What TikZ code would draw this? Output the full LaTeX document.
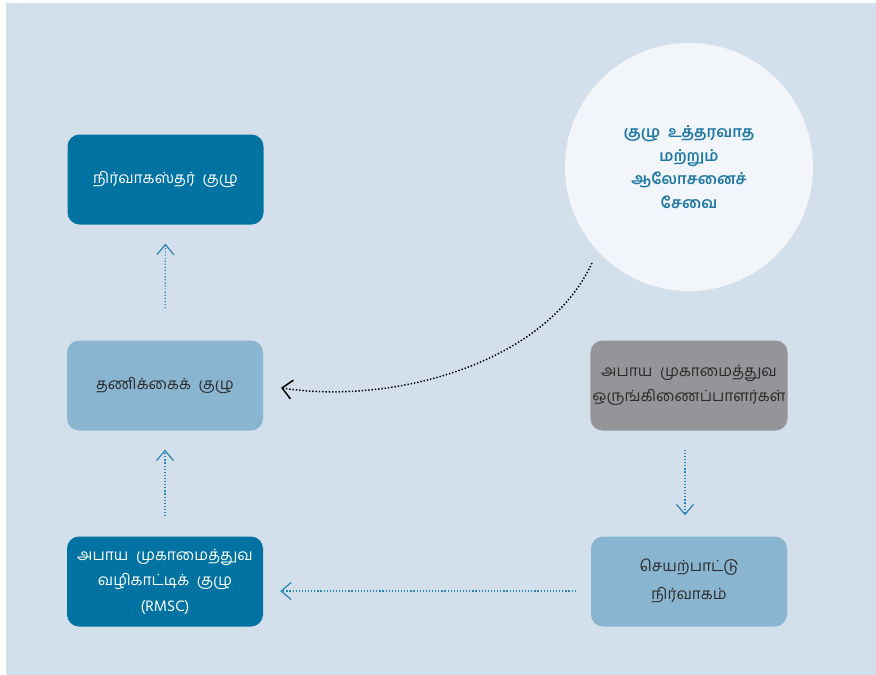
\documentclass[tikz,border=0pt]{standalone}
\usepackage{fontspec}
\newfontfamily\tamil[Script=Tamil]{Hind Madurai}
\usetikzlibrary{arrows.meta}
\definecolor{bg}{HTML}{D3E0EB}
\definecolor{darkblue}{HTML}{0073A2}
\definecolor{lightblue}{HTML}{8AB5D0}
\definecolor{greybox}{HTML}{949598}
\definecolor{circfill}{HTML}{F2F6FA}
\definecolor{arrowblue}{HTML}{2A84B6}
\definecolor{circtext}{HTML}{1F78A6}
\definecolor{darktext}{HTML}{2A2A2A}
\tikzset{
  boxbase/.style={rectangle, rounded corners=12pt, minimum width=196pt, minimum height=90pt, align=center, inner sep=2pt, font=\tamil\fontsize{15.5}{25.5}\selectfont},
  darkbox/.style={boxbase, fill=darkblue, text=white},
  lightbox/.style={boxbase, fill=lightblue, text=darktext},
  greyb/.style={boxbase, fill=greybox, text=darktext},
  circnode/.style={circle, fill=circfill, minimum size=248pt, align=center, text=circtext, font=\tamil\bfseries\fontsize{15.5}{23.5}\selectfont},
  bluearrow/.style={draw=arrowblue, line width=1.2pt, dash pattern=on 1.2pt off 1.9pt, -{Straight Barb[length=10pt,width=17pt,line width=1.2pt]}},
  blackarrow/.style={draw=black, line width=1.5pt, dash pattern=on 1.4pt off 1.9pt, -{Straight Barb[length=10pt,width=19pt,line width=1.5pt]}}
}
\begin{document}
\begin{tikzpicture}[x=1pt,y=-1pt]
\useasboundingbox (0,0) rectangle (876,675);
\fill[bg] (6,3) rectangle (876,675);

\node[darkbox] (b1) at (165.5,179.5) {நிர்வாகஸ்தர்\ \ குழு};
\node[lightbox] (b2) at (165,385.5) {தணிக்கைக்\ \ குழு};
\node[greyb] (b3) at (689,385.5) {அபாய\ \ முகாமைத்துவ\\ஒருங்கிணைப்பாளர்கள்};
\node[darkbox] (b4) at (165,581.5) {அபாய\ \ முகாமைத்துவ\\வழிகாட்டிக்\ \ குழு\\(RMSC)};
\node[lightbox, font=\tamil\fontsize{15.5}{28}\selectfont] (b5) at (689,581.5) {செயற்பாட்டு\\நிர்வாகம்};
\node[circnode] (c) at (689,167) {குழு\ \ உத்தரவாத\\மற்றும்\\ஆலோசனைச்\\சேவை};

\coordinate (cs) at (592,263);

\draw[bluearrow, shorten <=32pt, shorten >=19pt] (b2.north) -- (b1.south);
\draw[bluearrow, shorten <=20pt, shorten >=19pt] (b4.north) -- (b2.south);
\draw[bluearrow, shorten <=19pt, shorten >=21pt] ([xshift=-4pt]b3.south) -- ([xshift=-4pt]b5.north);
\draw[bluearrow, shorten <=15pt, shorten >=17pt] ([yshift=-9.5pt]b5.west) -- ([yshift=-9.5pt]b4.east);
\draw[blackarrow, shorten >=18pt] (cs) .. controls (545,365) and (390,405) .. ([yshift=0.5pt]b2.east);
\end{tikzpicture}
\end{document}
